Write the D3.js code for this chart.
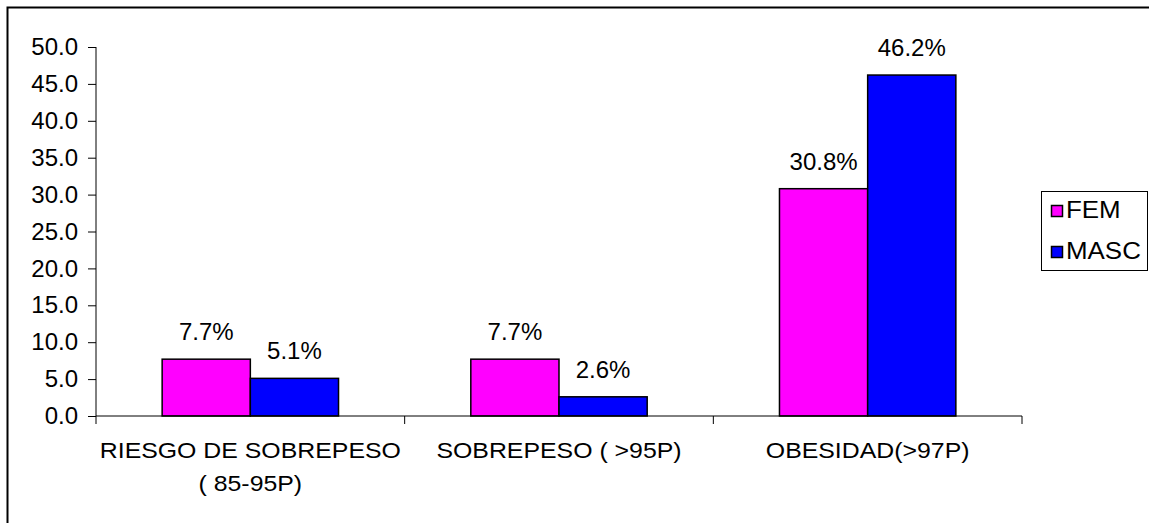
<!DOCTYPE html>
<html>
<head>
<meta charset="utf-8">
<script src="https://cdn.jsdelivr.net/npm/d3@7/dist/d3.min.js"></script>
<style>
  html, body { margin: 0; padding: 0; background: #fff; }
  svg { display: block; font-family: "Liberation Sans", Arial, sans-serif; }
</style>
</head>
<body>
<svg id="chart" width="1149" height="523"></svg>
<script>
// Categories (multi-line labels) and series values, in percent
const categories = ["RIESGO DE SOBREPESO|( 85-95P)", "SOBREPESO ( >95P)", "OBESIDAD(>97P)"];
const seriesNames = ["FEM", "MASC"];
const femValues = [7.7, 7.7, 30.8];
const mascValues = [5.1, 2.6, 46.2];
const yTicks = [0, 5, 10, 15, 20, 25, 30, 35, 40, 45, 50];
const colors = ["#FF00FF", "#0000FF"];

const svg = d3.select("#chart");
const stretch = 1.13; // category text is drawn slightly wide

// outer frame
svg.append("rect")
  .attr("x", 7.5).attr("y", 7.5)
  .attr("width", 1200).attr("height", 600)
  .attr("fill", "none").attr("stroke", "#000").attr("stroke-width", 2);

const plot = { left: 96, right: 1022, top: 47, bottom: 416 };

const y = d3.scaleLinear().domain([0, 50]).range([plot.bottom, plot.top]);
const x0 = d3.scaleBand().domain(categories).range([plot.left, plot.right]).paddingInner(0).paddingOuter(0);
const x1 = d3.scaleBand().domain(seriesNames).range([0, x0.bandwidth()]).paddingInner(0).paddingOuter(0.75);

const rows = categories.map((c, i) => ({ cat: c, vals: [femValues[i], mascValues[i]] }));

// bars
const groups = svg.append("g").selectAll("g").data(rows).join("g")
  .attr("transform", d => `translate(${x0(d.cat)},0)`);

groups.selectAll("rect").data(d => d.vals.map((v, j) => ({ v, s: seriesNames[j], j })))
  .join("rect")
  .attr("x", d => x1(d.s))
  .attr("y", d => y(d.v))
  .attr("width", x1.bandwidth())
  .attr("height", d => y(0) - y(d.v))
  .attr("fill", d => colors[d.j])
  .attr("stroke", "#000").attr("stroke-width", 1.5);

// value labels
groups.selectAll("text").data(d => d.vals.map((v, j) => ({ v, s: seriesNames[j] })))
  .join("text")
  .attr("transform", d => `translate(${x1(d.s) + x1.bandwidth() / 2},${y(d.v) - 19})`)
  .attr("text-anchor", "middle")
  .attr("font-size", 24)
  .attr("fill", "#000")
  .text(d => d.v.toFixed(1) + "%");

// y axis
const yAxis = svg.append("g")
  .attr("transform", `translate(${plot.left},0)`)
  .call(d3.axisLeft(y).tickValues(yTicks).tickSize(8).tickPadding(10).tickFormat(d3.format(".1f")));
yAxis.select(".domain").attr("stroke", "#000").attr("d", `M-0,${plot.top}V${plot.bottom}`);
yAxis.selectAll(".tick line").attr("stroke", "#000");
yAxis.selectAll(".tick text")
  .attr("font-size", 24).attr("fill", "#000")
  .attr("font-family", "Liberation Sans, Arial, sans-serif");

// x axis with category boundary ticks
const xAxisG = svg.append("g").attr("transform", `translate(0,${plot.bottom})`);
xAxisG.append("line")
  .attr("x1", plot.left).attr("x2", plot.right)
  .attr("stroke", "#000");
const bounds = categories.map(c => x0(c)).concat([plot.right]);
xAxisG.selectAll("line.tk").data(bounds).join("line").attr("class", "tk")
  .attr("x1", d => d).attr("x2", d => d)
  .attr("y1", 0).attr("y2", 8)
  .attr("stroke", "#000");

// category labels
const catLabels = svg.append("g").selectAll("text").data(categories).join("text")
  .attr("transform", d => `translate(${x0(d) + x0.bandwidth() / 2},458) scale(${stretch},1)`)
  .attr("text-anchor", "middle")
  .attr("font-size", 22)
  .attr("fill", "#000");
catLabels.selectAll("tspan").data(d => d.split("|")).join("tspan")
  .attr("x", 0)
  .attr("dy", (d, i) => i === 0 ? 0 : 33)
  .text(d => d);

// legend
const legend = svg.append("g");
legend.append("rect")
  .attr("x", 1041.5).attr("y", 191.5).attr("width", 106).attr("height", 79)
  .attr("fill", "#fff").attr("stroke", "#000").attr("stroke-width", 1);
const legendRows = [218, 259];
seriesNames.forEach((s, i) => {
  legend.append("rect")
    .attr("x", 1051.5).attr("y", legendRows[i] - 12.5)
    .attr("width", 11).attr("height", 11)
    .attr("fill", colors[i]).attr("stroke", "#000").attr("stroke-width", 1.5);
  legend.append("text")
    .attr("transform", `translate(1066,${legendRows[i]}) scale(1.08,1)`)
    .attr("font-size", 24).attr("fill", "#000")
    .text(s);
});
</script>
</body>
</html>
